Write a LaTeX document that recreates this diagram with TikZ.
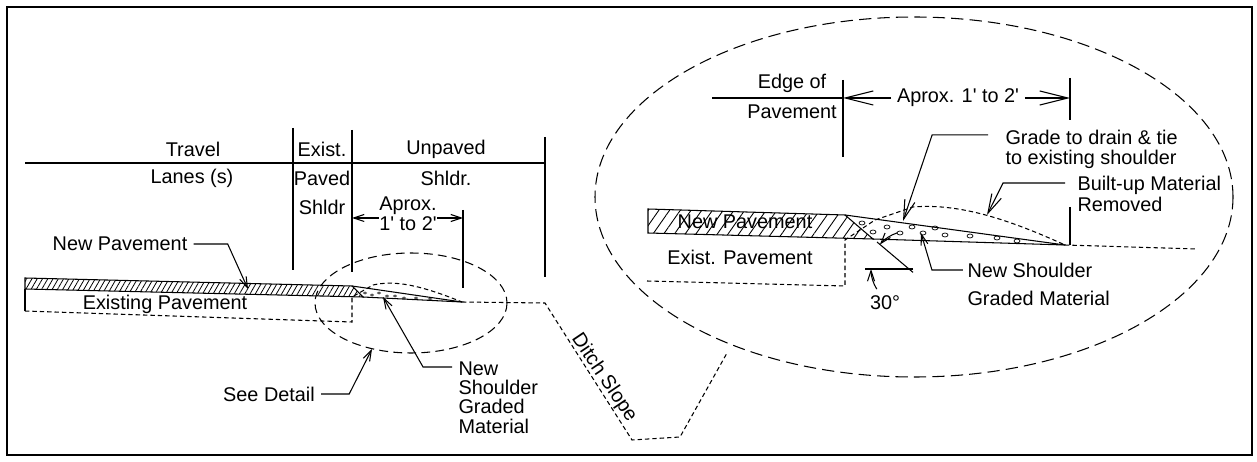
\documentclass[tikz,border=0pt]{standalone}
\usepackage{fontspec}
\setmainfont{Liberation Sans}
\usetikzlibrary{arrows.meta,patterns.meta}

\begin{document}
\begin{tikzpicture}[x=0.02cm,y=-0.02cm,line width=0.6pt,
    font=\fontsize{11.3}{11}\selectfont,
    lead/.style={-{Straight Barb[length=6pt,width=4pt]}},
    bigtip/.style={-{Straight Barb[length=11pt,width=6pt]}},
    dimtip/.style={-{Straight Barb[length=16pt,width=8pt]}},
    edge/.style={dash pattern=on 2.5pt off 1.7pt},
    ring/.style={dash pattern=on 5pt off 3pt},
    bigring/.style={dash pattern=on 7pt off 3.5pt}]
  \useasboundingbox (0,0) rectangle (1257,462);
  \draw[line width=1.4pt] (7,7) rectangle (1252,455);

  % section: header
  \draw (25,163) -- (545,163);
  \draw (293,128) -- (293,270);
  \draw (352,130) -- (352,272);
  \draw (545,137) -- (545,277);
  \draw (463,210) -- (463,288);
  \node (trv) at (193,149) {Travel};
  \node (lns) at (192,178) {Lanes (s)};
  \node (ex1) at (322,149) {Exist.};
  \node (ex2) at (322,178) {Paved};
  \node (ex3) at (322,207) {Shldr};
  \node (up1) at (446,149) {Unpaved};
  \node (up2) at (446,178) {Shldr.};
  \coordinate (eL) at (352,218);
  \coordinate (eR) at (463,218);
  \node[align=center,inner sep=0pt,font=\fontsize{11.3}{10.2}\selectfont] (dimL) at (408,214)
    {Aprox.\\1\textquotesingle{} to 2\textquotesingle};
  \draw[lead] (eL -| dimL.west) -- (eL);
  \draw[lead] (eR -| dimL.east) -- (eR);

  % section: pavement
  \draw[pattern={Lines[angle=60,distance=2.6pt,line width=0.45pt]}]
    (25,278) -- (352,286) -- (363,297) -- (25,289) -- cycle;
  \coordinate (lt) at (462,302);
  \draw (352,286) -- (lt);
  \draw (363,297) -- (lt);
  \draw (25,289) -- (25,311);
  \draw[edge] (25,311) -- (352,322) -- (352,297) -- (373,285)
    .. controls (395,280) and (420,285) .. (lt);
  \draw[edge] (lt) -- (545,303) -- (632,440) -- (680,437) -- (727,353);
  \foreach \x/\y in {365/293,372/295,379/293,387/296,395/296,404/298,416/298,430/299} {
    \draw[line width=0.3pt] (\x,\y) ellipse [x radius=1.6, y radius=1.1];
  }
  \draw[ring] (411,303) ellipse [x radius=96, y radius=50];
  \node[rotate=-56] (dit) at (604,378) {Ditch Slope};

  % section: labels
  \node (npL) at (120,244) {New Pavement};
  \coordinate (npTip) at (248,289);
  \draw[lead] (npL.east) -- ++(34,0) -- (npTip);
  \node (epL) at (165,304) {Existing Pavement};
  \node (sdL) at (269,394) {See Detail};
  \coordinate (sdTip) at (372,349);
  \draw[lead] (sdL.east) -- ++(28,0) -- (sdTip);
  \node[align=left,anchor=north west,inner sep=0pt] (nsL) at (458,361)
    {New\\Shoulder\\Graded\\Material};
  \coordinate (nsTip) at (383,297);
  \draw[lead] ([xshift=-3.4pt,yshift=-3.4pt]nsL.north west) -- ++(-29,0) -- (nsTip);

  % detail
  \draw[bigring] (914,197) ellipse [x radius=319, y radius=180];
  \draw (712,98) -- (843,98);
  \draw (843,80) -- (843,157);
  \draw (1070,78) -- (1070,120);
  \node (eg1) at (792,83) {Edge of};
  \node (eg2) at (792,112) {Pavement};
  \coordinate (eDL) at (843,98);
  \coordinate (eDR) at (1070,98);
  \node[inner sep=3pt] (dimD) at (958,98) {Aprox. 1\textquotesingle{} to 2\textquotesingle};
  \draw[dimtip] (dimD.west) -- (eDL);
  \draw[dimtip] (dimD.east) -- (eDR);

  \draw[pattern={Lines[angle=55,distance=5pt,line width=0.5pt]}]
    (648,209) -- (845,215) -- (873,239) -- (648,233) -- cycle;
  \coordinate (dt) at (1065,245);
  \draw (845,215) -- (dt);
  \draw (873,239) -- (dt);
  \draw (1070,207) -- (1070,245);
  \draw[edge] (647,281) -- (845,286) -- (845,240) -- (875,220) -- (913,207)
    .. controls (960,203) and (1010,220) .. (dt);
  \draw[edge] (dt) -- (1197,249);
  \foreach \x/\y in {862/223,873/232,887/227,900/233,912/227,923/233,935/228,
      945/235,970/236,997/238,1017/241} {
    \draw[line width=0.4pt] (\x,\y) ellipse [x radius=3, y radius=2];
  }
  \node (npD) at (745,222) {New Pavement};
  \node (epD) at (740,257) {Exist. Pavement};

  % angle
  \coordinate (av) at (909,269);
  \draw (av) ++(4,0) -- ++(-48,0);
  \draw (av) ++(4,3.4) -- (877,242);
  \draw[lead] (av) ++(148:38) arc[start angle=148, end angle=180, radius=38];
  \draw[lead] (av) ++(-108:38) arc[start angle=-108, end angle=-140, radius=38];
  \node (ang) at (885,303) {30°};

  % detail labels
  \node[align=left,anchor=north west,inner sep=0pt] (grL) at (1005,130)
    {Grade to drain \& tie\\to existing shoulder};
  \coordinate (grTip) at (903,221);
  \draw[bigtip] ([xshift=-9.6pt,yshift=-2.8pt]grL.north west) -- ++(-56,0) -- (grTip);
  \node[align=left,anchor=north west,inner sep=0pt,font=\fontsize{11.3}{10}\selectfont] (buL) at (1077,176)
    {Built-up Material\\Removed};
  \coordinate (buTip) at (987,215);
  \draw[bigtip] ([xshift=-6.8pt,yshift=-4pt]buL.north west) -- ++(-62,0) -- (buTip);
  \node[align=left,anchor=north west,inner sep=0pt] (nsD) at (967,263)
    {New Shoulder\\[4.5pt]Graded Material};
  \coordinate (nsDTip) at (921,233);
  \draw[lead] ([xshift=-2.3pt,yshift=-4pt]nsD.north west) -- ++(-31,0) -- (nsDTip);
\end{tikzpicture}
\end{document}
